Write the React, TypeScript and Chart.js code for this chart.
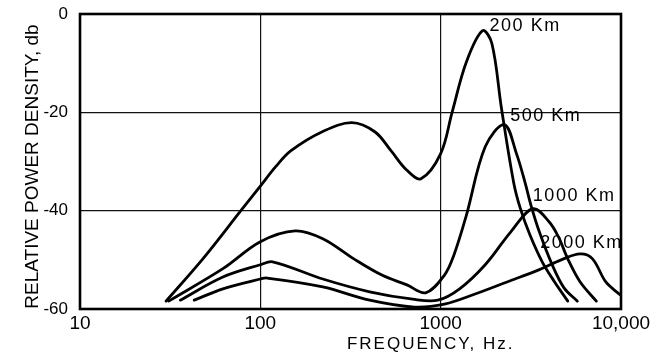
import React, { useEffect, useRef } from "react";
import { Chart, registerables } from "chart.js";

Chart.register(...registerables);

// ---- data ----
const distancesKm = [200, 500, 1000, 2000];

const freq200 = [30, 48, 78, 100, 122, 148, 222, 322, 433, 530, 650, 778, 1000, 1157, 1387, 1708, 1923, 2172, 2541, 2768, 3124, 3656, 4284, 5070];
const db200 = [-58.4, -49.8, -40, -35, -31, -27.8, -23.9, -22.1, -24, -27.8, -31.8, -33.5, -28.4, -20, -9.8, -3.4, -6, -19.1, -34.3, -39.6, -44.9, -50.4, -54.5, -58.4];

const freq500 = [31, 62, 100, 156, 222, 330, 472, 650, 826, 1050, 1185, 1387, 1766, 2254, 2632, 2938, 3162, 3525, 4130, 4830, 5730];
const db500 = [-58.4, -51.8, -46.3, -44.1, -45.7, -49.8, -53.1, -55.1, -56.7, -53.1, -49, -41, -27, -22.5, -28.4, -34.3, -38.8, -44.3, -50.8, -55.7, -58.4];

const freq1000 = [36, 62, 100, 117, 222, 404, 700, 965, 1274, 1766, 2449, 3245, 3980, 4495, 5070, 5940, 7300];
const db1000 = [-58.2, -53.5, -51, -50.4, -53.9, -56.5, -58, -58.2, -55.9, -51, -44.3, -39.6, -42.2, -45.3, -49.8, -54.5, -58.4];

const freq2000 = [43, 62, 100, 109, 222, 404, 716, 1050, 1566, 2335, 3527, 4660, 5940, 6950, 8240, 9880];
const db2000 = [-58.2, -55.9, -53.9, -53.7, -55.5, -58.2, -59.6, -59, -56.9, -54.5, -52, -50, -48.8, -49.8, -54.5, -57.1];

const xTickValues = [10, 100, 1000, 10000];
const yTickValues = [0, -20, -40, -60];
const xGridValues = [100, 1000];
const yGridValues = [-20, -40];

const xTitle = "FREQUENCY, Hz.";
const yTitle = "RELATIVE POWER DENSITY, db";

const FONT = '"Liberation Sans", Arial, Helvetica, sans-serif';

const seriesFreq = [freq200, freq500, freq1000, freq2000];
const seriesDb = [db200, db500, db1000, db2000];

// label offsets (pixels) relative to each curve's peak
const labelOffsets: [number, number][] = [
  [7, -5],
  [6, -9],
  [0, -13],
  [-40, -11],
];

const decorPlugin = {
  id: "decor",
  afterDatasetsDraw(chart: any) {
    const { ctx, chartArea: a, scales } = chart;
    ctx.save();
    // frame
    ctx.strokeStyle = "#000";
    ctx.lineWidth = 2.6;
    ctx.strokeRect(a.left, a.top, a.right - a.left, a.bottom - a.top);

    // curve labels
    ctx.fillStyle = "#000";
    ctx.font = `18px ${FONT}`;
    (ctx as any).letterSpacing = "1.5px";
    ctx.textAlign = "left";
    ctx.textBaseline = "middle";
    chart.data.datasets.forEach((ds: any, i: number) => {
      const meta = chart.getDatasetMeta(i);
      const ys = ds.data.map((p: any) => p.y);
      let k = 0;
      ys.forEach((v: number, j: number) => {
        if (v > ys[k]) k = j;
      });
      const el = meta.data[k];
      const off = labelOffsets[i];
      ctx.fillText(ds.label, el.x + off[0], el.y + off[1]);
    });

    // x title
    (ctx as any).letterSpacing = "2px";
    ctx.font = `17px ${FONT}`;
    ctx.textAlign = "center";
    ctx.textBaseline = "alphabetic";
    ctx.fillText(xTitle, scales.x.getPixelForValue(1000) - 10, a.bottom + 40);

    // y title
    (ctx as any).letterSpacing = "0px";
    ctx.font = `19px ${FONT}`;
    ctx.translate(37.5, (a.top + a.bottom) / 2 + 5);
    ctx.rotate(-Math.PI / 2);
    ctx.textAlign = "center";
    ctx.fillText(yTitle, 0, 0);
    ctx.restore();
  },
};

export default function App() {
  const canvasRef = useRef<HTMLCanvasElement | null>(null);

  useEffect(() => {
    document.body.style.margin = "0";
    const canvas = canvasRef.current;
    if (!canvas) return;

    const datasets = distancesKm.map((km, i) => ({
      label: `${km} Km`,
      data: seriesFreq[i].map((x, j) => ({ x, y: seriesDb[i][j] })),
      borderColor: "#000",
      backgroundColor: "#000",
      borderWidth: 2.8,
      pointRadius: 0,
      pointHoverRadius: 0,
      fill: false,
      tension: 0.35,
      borderCapStyle: "round" as const,
      borderJoinStyle: "round" as const,
    }));

    const chart = new Chart(canvas, {
      type: "line",
      data: { datasets },
      options: {
        responsive: false,
        animation: false,
        devicePixelRatio: 1,
        layout: { padding: { top: 14, right: 34, left: 0, bottom: 0 } },
        plugins: {
          legend: { display: false },
          tooltip: { enabled: false },
        },
        events: [],
        scales: {
          x: {
            type: "logarithmic",
            min: 10,
            max: 10000,
            afterBuildTicks: (s: any) => {
              s.ticks = xTickValues.map((v) => ({ value: v }));
            },
            afterFit: (s: any) => {
              s.height = 44;
              s.paddingLeft = 0;
              s.paddingRight = 0;
            },
            grid: {
              drawTicks: false,
              lineWidth: 1.2,
              color: (c: any) =>
                c.tick && xGridValues.includes(c.tick.value) ? "#111" : "rgba(0,0,0,0)",
            },
            border: { display: false },
            ticks: {
              padding: 3,
              color: "#000",
              autoSkip: false,
              maxRotation: 0,
              font: { family: FONT, size: 19 },
              callback: (v: any) => (Number(v) === 10000 ? "10,000" : String(v)),
            },
          },
          y: {
            type: "linear",
            min: -60,
            max: 0,
            afterBuildTicks: (s: any) => {
              s.ticks = yTickValues.map((v) => ({ value: v }));
            },
            afterFit: (s: any) => {
              s.width = 80;
              s.paddingTop = 0;
              s.paddingBottom = 0;
            },
            grid: {
              drawTicks: false,
              lineWidth: 1.2,
              color: (c: any) =>
                c.tick && yGridValues.includes(c.tick.value) ? "#111" : "rgba(0,0,0,0)",
            },
            border: { display: false },
            ticks: {
              padding: 12,
              color: "#000",
              font: { family: FONT, size: 17 },
              callback: (v: any) => String(v),
            },
          },
        },
      },
      plugins: [decorPlugin],
    });

    return () => chart.destroy();
  }, []);

  return (
    <div style={{ width: 655, height: 353, position: "relative", background: "#fff" }}>
      <canvas ref={canvasRef} width={655} height={353} style={{ display: "block" }} />
    </div>
  );
}
